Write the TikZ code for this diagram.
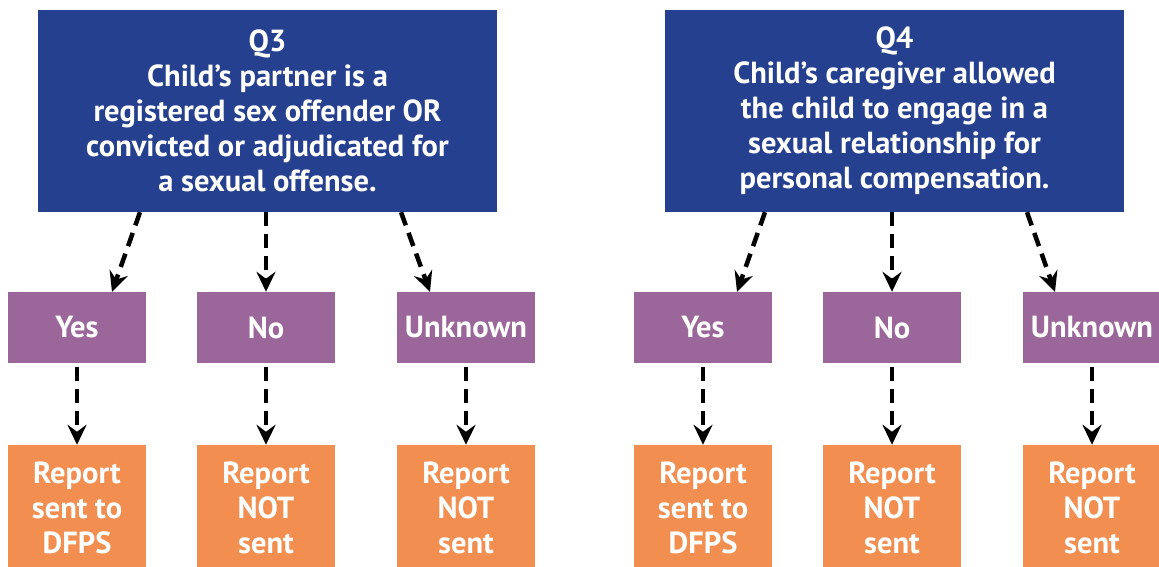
\documentclass[tikz,border=0pt]{standalone}
\usepackage{fontspec}
\setmainfont{PT Sans}
\usetikzlibrary{arrows.meta}
\definecolor{qblue}{RGB}{37,64,143}
\definecolor{apurple}{RGB}{155,103,154}
\definecolor{rorange}{RGB}{242,142,80}
\begin{document}
\begin{tikzpicture}[x=1pt,y=1pt,
	    txt/.style={text=white,font=\fontsize{30.5}{35}\selectfont\bfseries,align=center,inner sep=0pt},
	    qbox/.style={txt,fill=qblue,minimum width=459pt,minimum height=202pt},
	    abox/.style={txt,fill=apurple,minimum width=138pt,minimum height=71pt},
	    rbox/.style={txt,fill=rorange,minimum width=138pt,minimum height=126pt},
	    arr/.style={line width=4.5pt,dash pattern=on 14pt off 8pt,-{Stealth[length=20pt,width=19pt,inset=7pt]}}]
	    \useasboundingbox (0,0) rectangle (1159,-567);
	    \node[qbox] (q3) at (267.5,-111) {Q3\\Child’s partner is a\\registered sex offender OR\\convicted or adjudicated for\\a sexual offense.};
	    \node[qbox] (q4) at (894.5,-111) {Q4\\Child’s caregiver allowed\\the child to engage in a\\sexual relationship for\\personal compensation.};
	    \node[abox] (y3) at (77,-327.5) {Yes};
	    \node[abox] (n3) at (266,-327.5) {No};
	    \node[abox] (u3) at (466,-327.5) {Unknown};
	    \node[abox] (y4) at (703,-327.5) {Yes};
	    \node[abox] (n4) at (892,-327.5) {No};
	    \node[abox] (u4) at (1092,-327.5) {Unknown};
	    \node[rbox] (ry3) at (77,-508) {Report\\sent to\\DFPS};
	    \node[rbox] (rn3) at (266,-508) {Report\\NOT\\sent};
	    \node[rbox] (ru3) at (466,-508) {Report\\NOT\\sent};
	    \node[rbox] (ry4) at (703,-508) {Report\\sent to\\DFPS};
	    \node[rbox] (rn4) at (892,-508) {Report\\NOT\\sent};
	    \node[rbox] (ru4) at (1092,-508) {Report\\NOT\\sent};
	    \draw[arr] ([xshift=-127.5pt]q3.south) -- ([xshift=35pt]y3.north);
	    \draw[arr] (q3.south -| n3.north) -- (n3.north);
	    \draw[arr] ([xshift=133.5pt]q3.south) -- ([xshift=-36pt]u3.north);
	    \draw[arr] ([xshift=-129.5pt]q4.south) -- ([xshift=34pt]y4.north);
	    \draw[arr] (q4.south -| n4.north) -- (n4.north);
	    \draw[arr] ([xshift=132.5pt]q4.south) -- ([xshift=-37pt]u4.north);
	    \draw[arr] ([yshift=-4pt]y3.south) -- (ry3.north);
	    \draw[arr] ([yshift=-4pt]n3.south) -- (rn3.north);
	    \draw[arr] ([yshift=-4pt]u3.south) -- (ru3.north);
	    \draw[arr] ([yshift=-4pt]y4.south) -- (ry4.north);
	    \draw[arr] ([yshift=-4pt]n4.south) -- (rn4.north);
	    \draw[arr] ([yshift=-4pt]u4.south) -- (ru4.north);
	\end{tikzpicture}
\end{document}
